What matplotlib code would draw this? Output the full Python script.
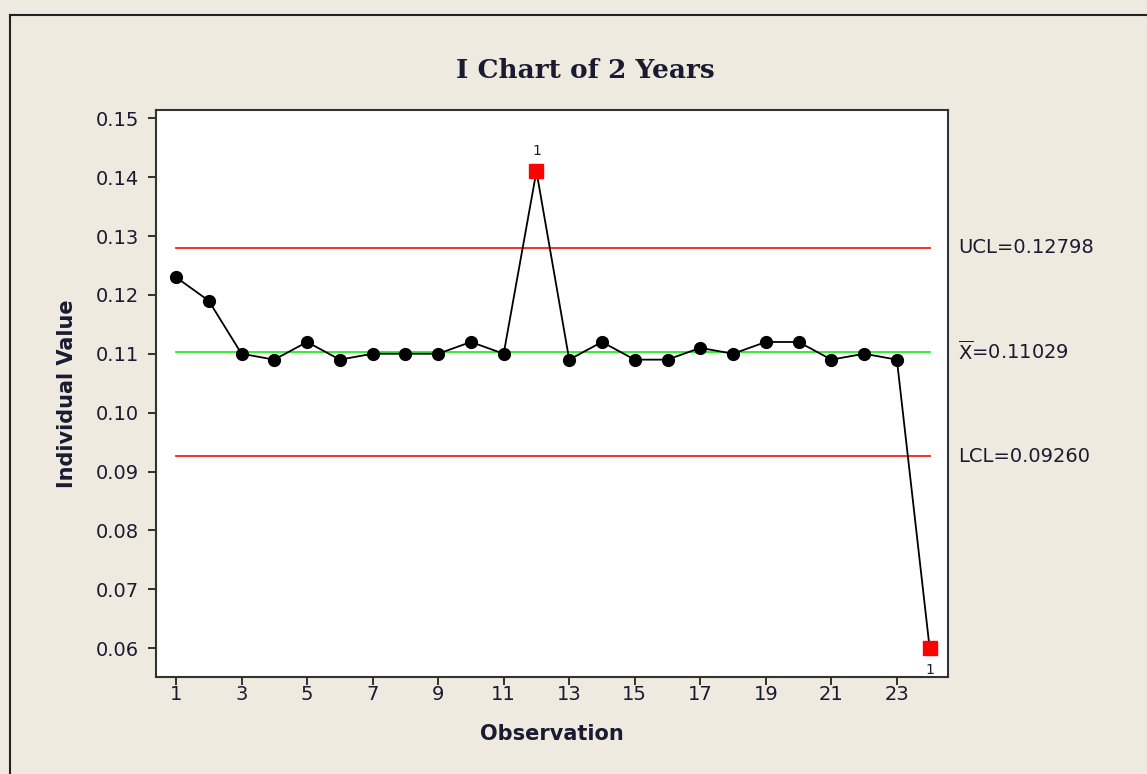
import numpy as np
import matplotlib.pyplot as plt
from matplotlib.lines import Line2D

plt.rcParams['mathtext.default'] = 'regular'

# individual observations (2 years)
obs = np.arange(1, 25)
values = [0.123, 0.119, 0.110, 0.109, 0.112, 0.109, 0.110, 0.110, 0.110, 0.112,
          0.110, 0.141, 0.109, 0.112, 0.109, 0.109, 0.111, 0.110, 0.112, 0.112,
          0.109, 0.110, 0.109, 0.060]
ucl = 0.12798
xbar = 0.11029
lcl = 0.09260
xticks = list(range(1, 24, 2))
yticks = [0.06, 0.07, 0.08, 0.09, 0.10, 0.11, 0.12, 0.13, 0.14, 0.15]

bg = '#EEEAE0'
txt = '#1a1a30'

fig = plt.figure(figsize=(11.47, 7.74), dpi=100, facecolor=bg)
# outer frame (left and top edges visible)
fig.add_artist(Line2D([10/1147, 10/1147], [0, 1 - 15/774], color='#222222', lw=1.5))
fig.add_artist(Line2D([10/1147, 1], [1 - 15/774, 1 - 15/774], color='#222222', lw=1.5))

ax = fig.add_axes([156/1147, 1 - 677/774, (948 - 156)/1147, (677 - 110)/774])
ax.set_facecolor('white')

ax.plot([1, 24], [ucl, ucl], color='#ff1a1a', lw=1.3)
ax.plot([1, 24], [lcl, lcl], color='#ff1a1a', lw=1.3)
ax.plot([1, 24], [xbar, xbar], color='#22ee22', lw=1.3)

vals = np.array(values)
out = (vals > ucl) | (vals < lcl)
ax.plot(obs, vals, color='black', lw=1.3, zorder=3)
ax.plot(obs[~out], vals[~out], 'o', color='black', ms=8.5, zorder=4)
ax.plot(obs[out], vals[out], 's', color='#ff0000', ms=9.5, zorder=4)
for x, y in zip(obs[out], vals[out]):
    if y > ucl:
        ax.text(x, y + 0.0022, '1', ha='center', va='bottom', fontsize=10, color=txt)
    else:
        ax.text(x, y - 0.0026, '1', ha='center', va='top', fontsize=10, color=txt)

ax.set_xlim(0.39, 24.56)
ax.set_ylim(0.0551, 0.1514)
ax.set_xticks(xticks)
ax.set_yticks(yticks)
ax.set_yticklabels([f'{t:.2f}' for t in yticks])
ax.tick_params(direction='out', length=6, width=1.3, labelsize=14, colors='#222222',
               labelcolor=txt)
ax.tick_params(axis='x', pad=0)
ax.tick_params(axis='y', pad=6)
for s in ax.spines.values():
    s.set_linewidth(1.5)
    s.set_color('#333333')

ax.set_xlabel('Observation', fontsize=15, fontweight='bold', color=txt, labelpad=14)
ax.set_ylabel('Individual Value', fontsize=15, fontweight='bold', color=txt, labelpad=14)
fig.text(585/1147, 1 - 70/774, 'I Chart of 2 Years', ha='center', va='center',
         fontsize=19, fontweight='bold', family='DejaVu Serif', color=txt)

lbl_x = 958/1147
for y, s in [(ucl, 'UCL=0.12798'), (xbar, r'$\overline{X}$=0.11029'), (lcl, 'LCL=0.09260')]:
    ax.annotate(s, xy=(lbl_x, y), xycoords=('figure fraction', 'data'),
                ha='left', va='center', fontsize=14, color=txt, annotation_clip=False)

fig.savefig('out.png', dpi=100, facecolor=bg)
